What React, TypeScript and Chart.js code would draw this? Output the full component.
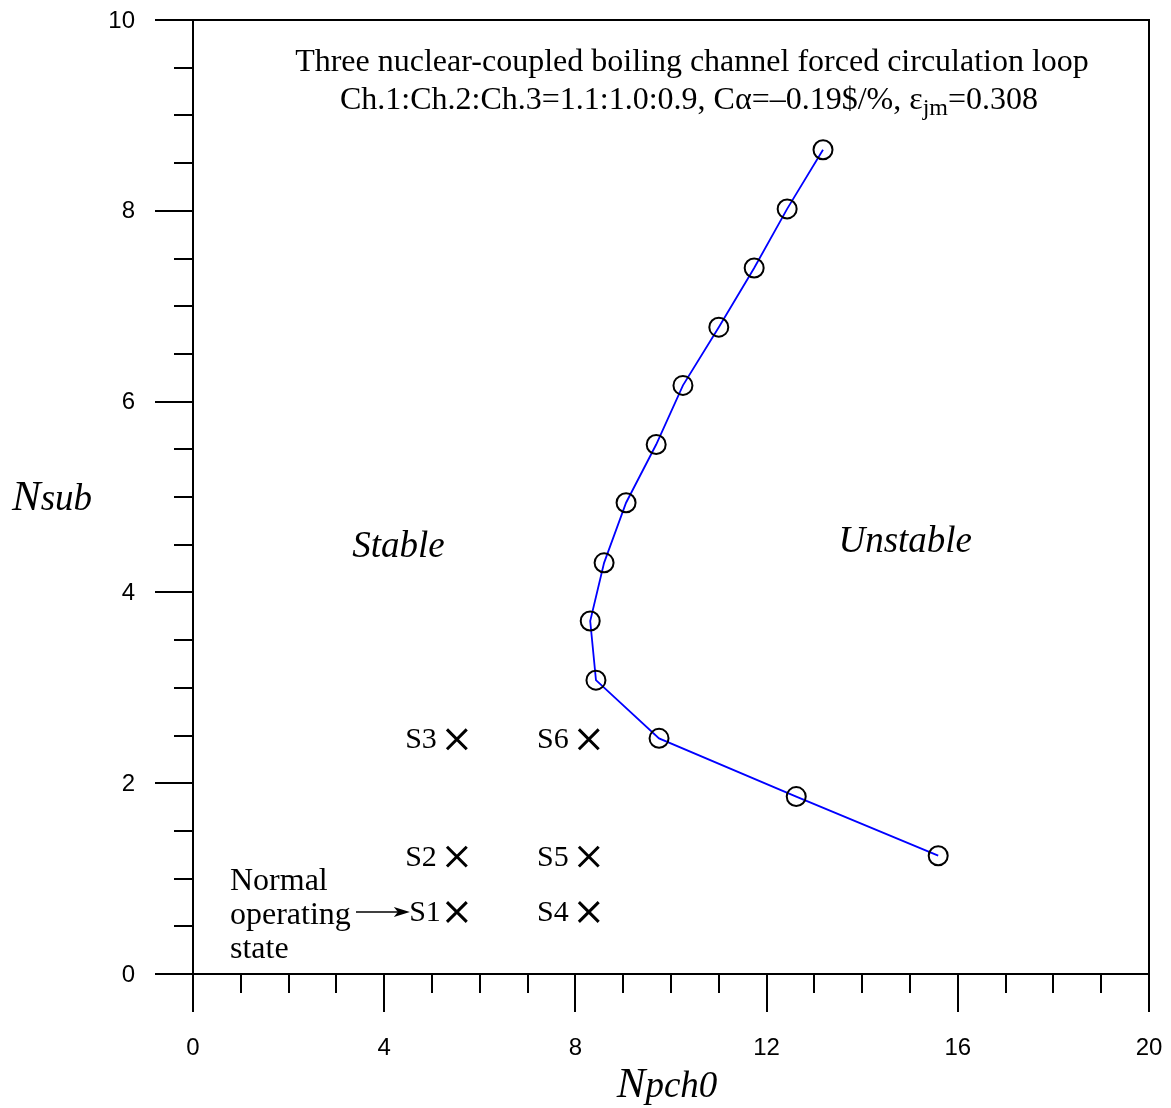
import React, { useEffect, useRef } from 'react';
import { Chart, registerables } from 'chart.js';

Chart.register(...registerables);

// Stability boundary (marginal stability) points
const boundaryNpch = [13.18, 12.43, 11.74, 11.0, 10.25, 9.69, 9.06, 8.6, 8.31, 8.43, 9.75, 12.62, 15.59];
const boundaryNsub = [8.64, 8.02, 7.4, 6.78, 6.17, 5.55, 4.94, 4.31, 3.7, 3.08, 2.47, 1.86, 1.24];

// Operating states
const stateLabels = ['S1', 'S2', 'S3', 'S4', 'S5', 'S6'];
const stateNpch = [5.52, 5.52, 5.52, 8.28, 8.28, 8.28];
const stateNsub = [0.65, 1.23, 2.46, 0.65, 1.23, 2.46];

// Axes
const xTickLabels = [0, 4, 8, 12, 16, 20];
const yTickLabels = [0, 2, 4, 6, 8, 10];
const xMinorStep = 1;
const yMinorStep = 0.5;

const titleLine1 = 'Three nuclear-coupled boiling channel forced circulation loop';
const titleLine2a = 'Ch.1:Ch.2:Ch.3=1.1:1.0:0.9, C\u03b1=\u20130.19$/%, \u03b5';
const titleLine2sub = 'jm';
const titleLine2b = '=0.308';

const SERIF = '"Liberation Serif", "Times New Roman", serif';
const SANS = '"Liberation Sans", Arial, sans-serif';

type Seg = { text: string; font: string; dy?: number };

function drawSegs(ctx: CanvasRenderingContext2D, segs: Seg[], x: number, y: number, align: 'left' | 'center') {
  let total = 0;
  for (const s of segs) {
    ctx.font = s.font;
    total += ctx.measureText(s.text).width;
  }
  let cx = align === 'center' ? x - total / 2 : x;
  ctx.textAlign = 'left';
  ctx.textBaseline = 'alphabetic';
  for (const s of segs) {
    ctx.font = s.font;
    ctx.fillText(s.text, cx, y + (s.dy || 0));
    cx += ctx.measureText(s.text).width;
  }
}

const decorPlugin = {
  id: 'decor',
  beforeDatasetsDraw(chart: any) {
    const ctx: CanvasRenderingContext2D = chart.ctx;
    const xs = chart.scales.x;
    const ys = chart.scales.y;
    const { left, right, top, bottom } = chart.chartArea;
    ctx.save();
    ctx.strokeStyle = '#000';
    ctx.lineWidth = 2;
    ctx.lineCap = 'butt';
    // frame
    ctx.beginPath();
    ctx.rect(left, top, right - left, bottom - top);
    ctx.stroke();
    const major = 38;
    const minor = 19;
    // x ticks
    ctx.beginPath();
    for (let v = xs.min; v <= xs.max + 1e-9; v += xMinorStep) {
      const px = Math.round(xs.getPixelForValue(v));
      const isMajor = xTickLabels.some((t) => Math.abs(t - v) < 1e-6);
      ctx.moveTo(px, bottom);
      ctx.lineTo(px, bottom + (isMajor ? major : minor));
    }
    // y ticks
    for (let v = ys.min; v <= ys.max + 1e-9; v += yMinorStep) {
      const py = Math.round(ys.getPixelForValue(v));
      const isMajor = yTickLabels.some((t) => Math.abs(t - v) < 1e-6);
      ctx.moveTo(left, py);
      ctx.lineTo(left - (isMajor ? major : minor), py);
    }
    ctx.stroke();
    // tick labels
    ctx.fillStyle = '#000';
    ctx.font = `24px ${SANS}`;
    ctx.textAlign = 'center';
    ctx.textBaseline = 'middle';
    for (const t of xTickLabels) {
      ctx.fillText(String(t), xs.getPixelForValue(t), bottom + 74);
    }
    ctx.textAlign = 'right';
    for (const t of yTickLabels) {
      ctx.fillText(String(t), left - 58, ys.getPixelForValue(t) + 1);
    }
    // axis titles
    drawSegs(
      ctx,
      [
        { text: 'N', font: `italic 43px ${SERIF}` },
        { text: 'pch0', font: `italic 37px ${SERIF}` },
      ],
      667,
      1097,
      'center'
    );
    drawSegs(
      ctx,
      [
        { text: 'N', font: `italic 43px ${SERIF}` },
        { text: 'sub', font: `italic 37px ${SERIF}` },
      ],
      12,
      510,
      'left'
    );
    // title
    ctx.fillStyle = '#000';
    drawSegs(ctx, [{ text: titleLine1, font: `32px ${SERIF}` }], 692, 71, 'center');
    drawSegs(
      ctx,
      [
        { text: titleLine2a, font: `32px ${SERIF}` },
        { text: titleLine2sub, font: `24px ${SERIF}`, dy: 6 },
        { text: titleLine2b, font: `32px ${SERIF}` },
      ],
      689,
      109,
      'center'
    );
    // region labels
    ctx.textAlign = 'center';
    ctx.textBaseline = 'alphabetic';
    ctx.font = `italic 37px ${SERIF}`;
    ctx.fillText('Stable', xs.getPixelForValue(4.3), ys.getPixelForValue(4.5) + 12);
    ctx.fillText('Unstable', xs.getPixelForValue(14.9), ys.getPixelForValue(4.55) + 12);
    // normal operating state note
    ctx.textAlign = 'left';
    ctx.font = `32px ${SERIF}`;
    ctx.fillText('Normal', 230, 890);
    ctx.fillText('operating', 230, 924);
    ctx.fillText('state', 230, 958);
    ctx.restore();
  },
  afterDatasetsDraw(chart: any) {
    const ctx: CanvasRenderingContext2D = chart.ctx;
    const meta = chart.getDatasetMeta(1);
    ctx.save();
    ctx.fillStyle = '#000';
    ctx.font = `30px ${SERIF}`;
    ctx.textAlign = 'right';
    ctx.textBaseline = 'middle';
    meta.data.forEach((pt: any, i: number) => {
      const off = i === 0 ? 16 : 20;
      ctx.fillText(stateLabels[i], pt.x - off, pt.y + 1);
    });
    // arrow to S1
    const s1 = meta.data[0];
    const ay = s1.y;
    const ax1 = 356;
    const ax2 = s1.x - 47;
    ctx.strokeStyle = '#000';
    ctx.lineWidth = 1.5;
    ctx.beginPath();
    ctx.moveTo(ax1, ay);
    ctx.lineTo(ax2 - 8, ay);
    ctx.stroke();
    ctx.beginPath();
    ctx.moveTo(ax2, ay);
    ctx.lineTo(ax2 - 16, ay - 5);
    ctx.lineTo(ax2 - 12, ay);
    ctx.lineTo(ax2 - 16, ay + 5);
    ctx.closePath();
    ctx.fill();
    ctx.restore();
  },
};

export default function App() {
  const ref = useRef<HTMLCanvasElement | null>(null);
  useEffect(() => {
    if (!ref.current) return;
    const chart = new Chart(ref.current, {
      type: 'scatter',
      data: {
        datasets: [
          {
            label: 'Stability boundary',
            data: boundaryNpch.map((x, i) => ({ x, y: boundaryNsub[i] })),
            showLine: true,
            borderColor: '#0000ff',
            borderWidth: 1.8,
            pointStyle: 'circle',
            pointRadius: 9.5,
            pointBorderColor: '#000',
            pointBorderWidth: 2,
            pointBackgroundColor: 'rgba(0,0,0,0)',
            tension: 0,
          },
          {
            label: 'States',
            data: stateNpch.map((x, i) => ({ x, y: stateNsub[i] })),
            showLine: false,
            pointStyle: 'crossRot',
            pointRadius: 14,
            pointBorderColor: '#000',
            pointBorderWidth: 3,
          },
        ],
      } as any,
      options: {
        responsive: false,
        animation: false,
        events: [],
        layout: { padding: { left: 193, right: 22, top: 20, bottom: 134 } },
        scales: {
          x: { type: 'linear', min: 0, max: 20, display: false },
          y: { type: 'linear', min: 0, max: 10, display: false },
        },
        plugins: { legend: { display: false }, tooltip: { enabled: false } },
      } as any,
      plugins: [decorPlugin],
    });
    return () => chart.destroy();
  }, []);
  return (
    <div style={{ position: 'absolute', left: 0, top: 0, width: 1171, height: 1108, background: '#fff' }}>
      <canvas ref={ref} width={1171} height={1108} style={{ display: 'block' }} />
    </div>
  );
}
